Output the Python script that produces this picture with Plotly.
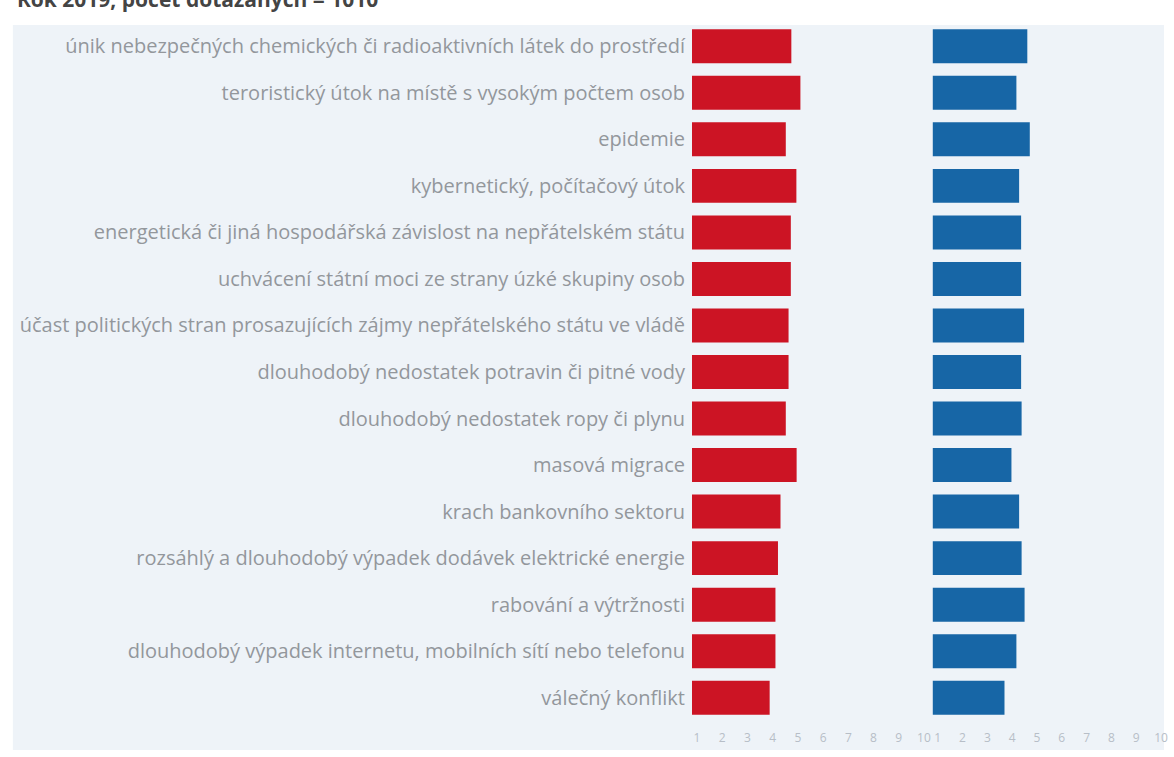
import plotly.graph_objects as go

# Data (scale 1-10)
categories = [
    "únik nebezpečných chemických či radioaktivních látek do prostředí",
    "teroristický útok na místě s vysokým počtem osob",
    "epidemie",
    "kybernetický, počítačový útok",
    "energetická či jiná hospodářská závislost na nepřátelském státu",
    "uchvácení státní moci ze strany úzké skupiny osob",
    "účast politických stran prosazujících zájmy nepřátelského státu ve vládě",
    "dlouhodobý nedostatek potravin či pitné vody",
    "dlouhodobý nedostatek ropy či plynu",
    "masová migrace",
    "krach bankovního sektoru",
    "rozsáhlý a dlouhodobý výpadek dodávek elektrické energie",
    "rabování a výtržnosti",
    "dlouhodobý výpadek internetu, mobilních sítí nebo telefonu",
    "válečný konflikt",
]
red_values = [4.74, 5.10, 4.52, 4.94, 4.72, 4.72, 4.63, 4.63, 4.52, 4.95, 4.31, 4.21, 4.11, 4.11, 3.88]
blue_values = [4.61, 4.17, 4.71, 4.28, 4.36, 4.36, 4.48, 4.36, 4.38, 3.97, 4.28, 4.38, 4.50, 4.17, 3.69]
tick_vals = [1, 2, 3, 4, 5, 6, 7, 8, 9, 10]
title_text = "Rok 2019, počet dotázaných = 1010"

RED = "#cc1424"
BLUE = "#1766a6"
BG = "#eef3f8"

W, H = 1174, 757
ml, mr, mt, mb = 692, 6, 23, 36

fig = go.Figure()
fig.add_trace(go.Bar(y=categories, x=red_values, orientation="h",
                     marker=dict(color=RED, line=dict(width=0)),
                     xaxis="x", yaxis="y", showlegend=False))
fig.add_trace(go.Bar(y=categories, x=blue_values, orientation="h",
                     marker=dict(color=BLUE, line=dict(width=0)),
                     xaxis="x2", yaxis="y", showlegend=False))

xcommon = dict(range=[0.8, 10.2], tickvals=tick_vals, showgrid=False, zeroline=False,
               showline=False, ticks="", ticklabelstandoff=8,
               tickfont=dict(family="Open Sans", size=12, color="#b7bec7"),
               fixedrange=True)

pw = W - ml - mr
ph = H - mt - mb

fig.update_layout(
    width=W, height=H,
    margin=dict(l=ml, r=mr, t=mt, b=mb),
    paper_bgcolor="white",
    plot_bgcolor="rgba(0,0,0,0)",
    bargap=0.27,
    xaxis=dict(domain=[0, 0.5], **xcommon),
    xaxis2=dict(domain=[0.508, 1], anchor="y", **xcommon),
    yaxis=dict(type="category", categoryorder="array", categoryarray=categories,
               range=[len(categories) - 0.5, -0.5], showgrid=False, zeroline=False,
               showline=False, ticks="", ticklabelstandoff=6, fixedrange=True,
               tickfont=dict(family="Open Sans", size=20, color="#93979c")),
    shapes=[dict(type="rect", xref="paper", yref="paper", layer="below",
                 x0=(10 - ml) / pw, x1=(1166 - ml) / pw,
                 y0=(H - mb - 750) / ph, y1=(H - mb - 25) / ph,
                 fillcolor=BG, line=dict(width=0))],
    annotations=[dict(text="<b>" + title_text + "</b>", xref="paper", yref="paper",
                      x=(12 - ml) / pw, y=(H - mb + 1) / ph, xanchor="left", yanchor="middle",
                      showarrow=False, font=dict(family="Open Sans", size=21, color="#444444"))],
)

fig.write_html("out.html", config={"displayModeBar": False},
               post_script="document.body.style.margin='0';")
